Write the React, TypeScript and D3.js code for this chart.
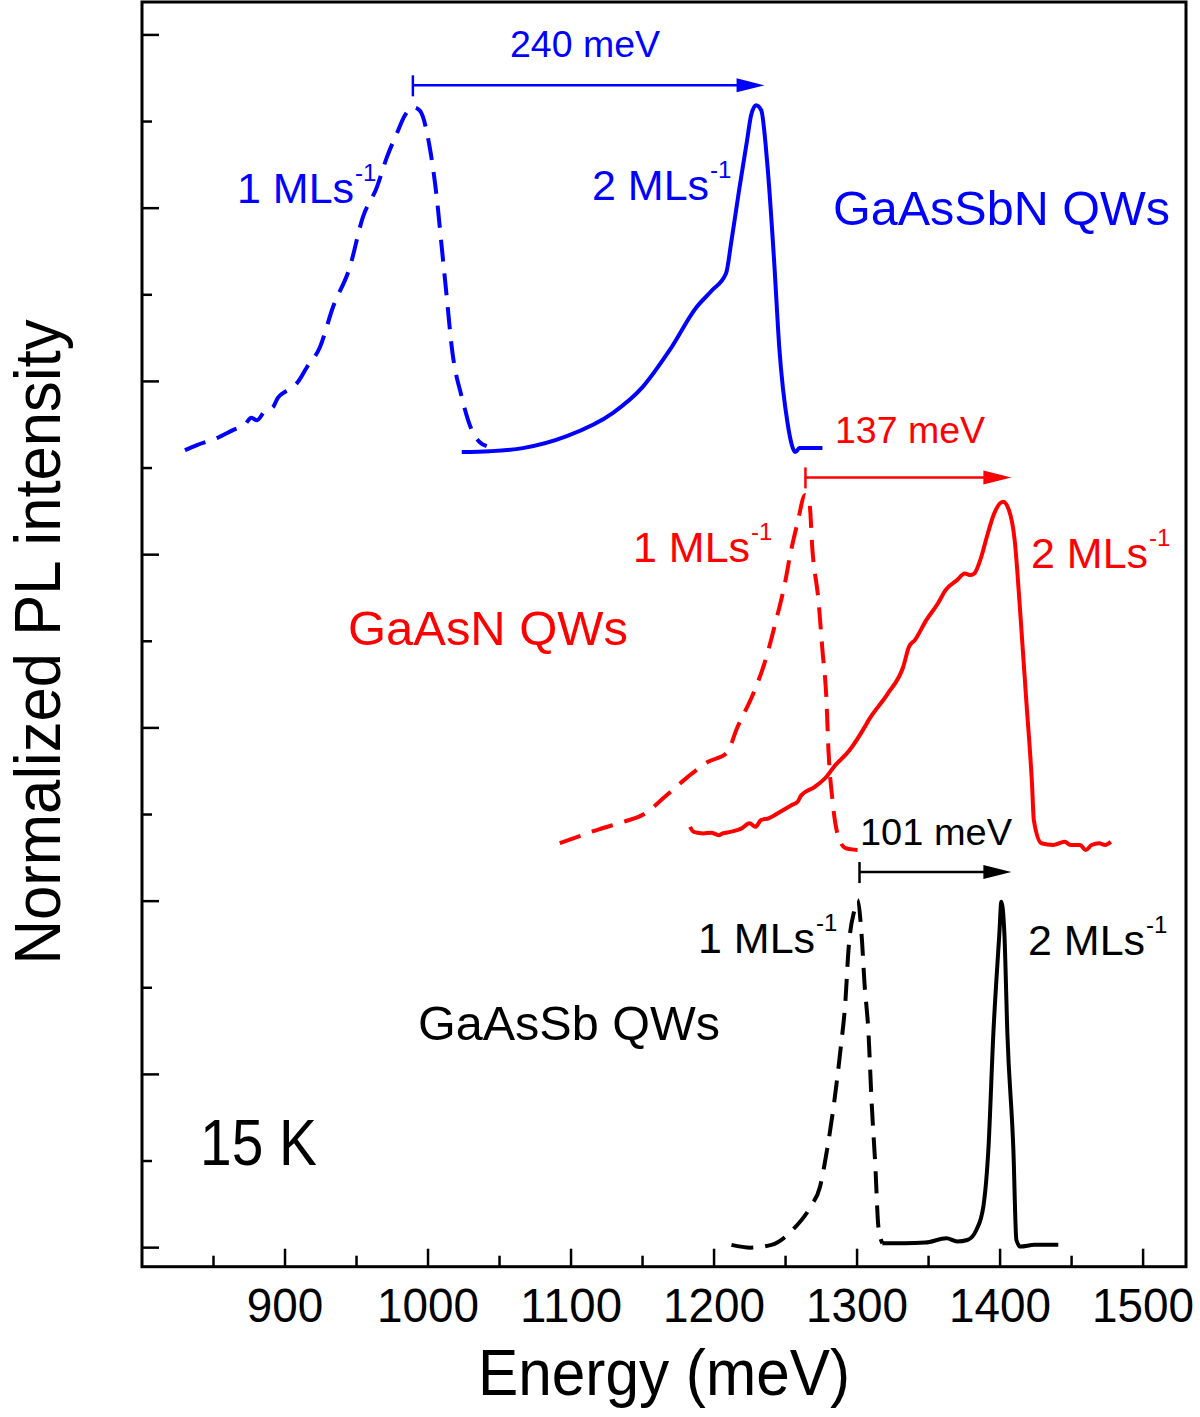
import React from 'react';
import * as d3 from 'd3';

const W = 1200;
const H = 1417;

// Axis ticks
const xMajorTicks = [900, 1000, 1100, 1200, 1300, 1400, 1500];
const xMinorTicks = [850, 950, 1050, 1150, 1250, 1350, 1450];
const yMajorTicks = [0, 1, 2, 3, 4, 5, 6, 7];
const yMinorTicks = [0.5, 1.5, 2.5, 3.5, 4.5, 5.5, 6.5];

// GaAsSbN QWs, 1 ML/s (dashed, blue)
const gaasSbN1: [number, number][] = [
  [830.0, 4.603], [838.4, 4.632], [852.4, 4.673], [863.6, 4.719], [872.0, 4.752],
  [876.5, 4.790], [880.3, 4.776], [886.0, 4.830], [891.5, 4.851], [895.0, 4.905],
  [898.5, 4.932], [903.0, 4.955], [908.3, 4.990], [915.3, 5.082], [924.4, 5.197],
  [933.5, 5.428], [945.3, 5.659], [954.4, 5.947], [964.2, 6.120], [971.2, 6.293],
  [978.2, 6.432], [983.8, 6.535], [989.4, 6.582], [994.2, 6.564], [1001.2, 6.351],
  [1006.1, 6.062], [1009.6, 5.774], [1013.1, 5.486], [1016.6, 5.197], [1023.6, 4.909],
  [1030.6, 4.719], [1036.2, 4.649], [1041.0, 4.626],
];

// GaAsSbN QWs, 2 ML/s (solid, blue)
const gaasSbN2: [number, number][] = [
  [1023.6, 4.592], [1043.2, 4.597], [1066.2, 4.615], [1097.0, 4.684], [1129.1, 4.817],
  [1150.0, 4.967], [1168.9, 5.180], [1187.7, 5.428], [1198.6, 5.526], [1208.4, 5.624],
  [1211.9, 5.797], [1217.5, 6.103], [1223.1, 6.392], [1225.9, 6.536], [1229.4, 6.594],
  [1233.0, 6.565], [1237.2, 6.259], [1242.1, 5.682], [1245.6, 5.197], [1251.4, 4.759],
  [1256.9, 4.592], [1259.7, 4.615], [1275.8, 4.615],
];

// GaAsN QWs, 1 ML/s (dashed, red)
const gaasN1: [number, number][] = [
  [1092.1, 2.335], [1106.0, 2.376], [1120.0, 2.416], [1136.1, 2.456], [1152.1, 2.508],
  [1165.4, 2.601], [1181.5, 2.716], [1195.5, 2.803], [1208.8, 2.855], [1216.4, 3.005],
  [1227.6, 3.201], [1235.3, 3.374], [1243.4, 3.622], [1249.0, 3.813], [1253.9, 4.026],
  [1258.3, 4.182], [1263.7, 4.344], [1266.7, 4.298], [1268.8, 4.026], [1273.0, 3.737],
  [1275.8, 3.448], [1278.6, 3.160], [1280.0, 2.871], [1282.8, 2.583], [1286.2, 2.393],
  [1291.9, 2.306], [1300.3, 2.295],
];

// GaAsN QWs, 2 ML/s (solid, red)
const gaasN2: [number, number][] = [
  [1183.2, 2.429], [1185.8, 2.400], [1192.6, 2.391], [1197.9, 2.395], [1203.3, 2.381],
  [1206.0, 2.391], [1211.4, 2.400], [1219.4, 2.420], [1224.8, 2.449], [1228.9, 2.429],
  [1232.8, 2.468], [1238.2, 2.478], [1246.3, 2.516], [1254.4, 2.555], [1258.4, 2.574],
  [1261.1, 2.612], [1270.5, 2.660], [1278.6, 2.718], [1283.9, 2.776], [1294.7, 2.871],
  [1305.4, 3.006], [1308.1, 3.045], [1321.6, 3.199], [1332.3, 3.353], [1336.3, 3.468],
  [1340.4, 3.507], [1348.4, 3.622], [1356.5, 3.718], [1361.9, 3.795], [1369.9, 3.853],
  [1375.3, 3.891], [1379.4, 3.882], [1382.0, 3.891], [1386.1, 3.968], [1391.4, 4.122],
  [1395.4, 4.228], [1402.1, 4.305], [1406.2, 4.257], [1410.2, 4.084], [1414.3, 3.641],
  [1418.3, 3.160], [1422.3, 2.680], [1423.6, 2.468], [1429.0, 2.334], [1437.1, 2.324],
  [1445.2, 2.343], [1449.2, 2.324], [1455.9, 2.324], [1459.9, 2.295], [1464.0, 2.324],
  [1469.3, 2.334], [1473.4, 2.324], [1477.4, 2.343],
];

// GaAsSb QWs, 1 ML/s (dashed, black)
const gaasSb1: [number, number][] = [
  [1212.2, 0.016], [1225.5, 0.0], [1240.2, 0.016], [1254.9, 0.102], [1267.5, 0.237],
  [1274.1, 0.352], [1279.0, 0.564], [1284.2, 0.852], [1288.4, 1.141], [1291.9, 1.429],
  [1294.0, 1.718], [1298.2, 1.949], [1300.3, 2.006], [1303.1, 1.814], [1305.2, 1.526],
  [1308.0, 1.237], [1310.1, 0.852], [1312.8, 0.467], [1314.9, 0.121], [1317.7, 0.025],
];

// GaAsSb QWs, 2 ML/s (solid, black)
const gaasSb2: [number, number][] = [
  [1317.7, 0.025], [1333.1, 0.025], [1347.8, 0.029], [1362.5, 0.054], [1370.1, 0.035],
  [1377.1, 0.044], [1383.4, 0.102], [1388.3, 0.237], [1391.8, 0.564], [1395.3, 1.237],
  [1399.5, 1.814], [1400.9, 1.997], [1403.0, 1.814], [1405.1, 1.237], [1409.3, 0.564],
  [1411.4, 0.044], [1414.2, 0.006], [1424.0, 0.016], [1440.7, 0.016],
];

// Energy shift arrows: start, end, level
const arrowStarts = [989.4, 1263.9, 1301.7];
const arrowEnds = [1235.3, 1407.9, 1407.9];
const arrowLevels = [6.709, 4.446, 2.168];
const arrowLabels = ['240 meV', '137 meV', '101 meV'];

const BLUE = '#0000ff';
const RED = '#ff0000';
const BLACK = '#000000';
const FONT = "'Liberation Sans', Arial, Helvetica, sans-serif";

export default function App() {
  const left = 142, right = 1186, top = 2, bottom = 1266.7;
  const x = d3.scaleLinear().domain([800, 1530]).range([left, right]);
  const y = d3.scaleLinear().domain([-0.11, 7.19]).range([bottom, top]);
  const line = d3
    .line<[number, number]>()
    .x((d) => x(d[0]))
    .y((d) => y(d[1]))
    .curve(d3.curveMonotoneX);

  const curves = [
    { data: gaasSbN1, color: BLUE, dash: '22,12' },
    { data: gaasSbN2, color: BLUE, dash: null },
    { data: gaasN1, color: RED, dash: '22,12' },
    { data: gaasN2, color: RED, dash: null },
    { data: gaasSb1, color: BLACK, dash: '22,12' },
    { data: gaasSb2, color: BLACK, dash: null },
  ];
  const arrowColors = [BLUE, RED, BLACK];
  const arrowLabelPos = [
    { cx: 585, by: 57, len: 150 },
    { cx: 910, by: 443, len: 150 },
    { cx: 936, by: 845, len: 152 },
  ];

  const mlLabels = [
    { n: '1', x: 237, by: 203, color: BLUE },
    { n: '2', x: 592, by: 200, color: BLUE },
    { n: '1', x: 633, by: 562, color: RED },
    { n: '2', x: 1031, by: 568, color: RED },
    { n: '1', x: 698, by: 953, color: BLACK },
    { n: '2', x: 1028, by: 955, color: BLACK },
  ];

  return (
    <svg
      width={W}
      height={H}
      viewBox={`0 0 ${W} ${H}`}
      style={{ position: 'absolute', left: 0, top: 0, background: '#fff' }}
      fontFamily={FONT}
    >
      <rect x={0} y={0} width={W} height={H} fill="#fff" />

      {/* curves */}
      {curves.map((c, i) => (
        <path
          key={i}
          d={line(c.data) || ''}
          fill="none"
          stroke={c.color}
          strokeWidth={4}
          strokeDasharray={c.dash || undefined}
          strokeLinejoin="round"
        />
      ))}

      {/* arrows */}
      {arrowStarts.map((s, i) => {
        const x1 = x(s);
        const x2 = x(arrowEnds[i]);
        const yy = y(arrowLevels[i]);
        const col = arrowColors[i];
        const hl = 28;
        return (
          <g key={i}>
            <line x1={x1} x2={x2 - hl + 2} y1={yy} y2={yy} stroke={col} strokeWidth={2.5} />
            <line x1={x1} x2={x1} y1={yy - 10} y2={yy + 11} stroke={col} strokeWidth={2.5} />
            <polygon points={`${x2},${yy} ${x2 - hl},${yy - 7} ${x2 - hl},${yy + 7}`} fill={col} />
            <text
              x={arrowLabelPos[i].cx}
              y={arrowLabelPos[i].by}
              fontSize={36}
              textAnchor="middle"
              fill={col}
              textLength={arrowLabelPos[i].len}
              lengthAdjust="spacingAndGlyphs"
            >
              {arrowLabels[i]}
            </text>
          </g>
        );
      })}

      {/* ML labels (single text with superscript tspan) */}
      {mlLabels.map((l, i) => (
        <text key={i} x={l.x} y={l.by} fontSize={43} fill={l.color}>
          <tspan>{`${l.n} MLs`}</tspan>
          <tspan dx={1} dy={-22} fontSize={24}>-1</tspan>
        </text>
      ))}

      {/* group labels */}
      <text x={833} y={225} fontSize={48} fill={BLUE} textLength={337} lengthAdjust="spacingAndGlyphs">
        GaAsSbN QWs
      </text>
      <text x={348} y={645} fontSize={48} fill={RED} textLength={280} lengthAdjust="spacingAndGlyphs">
        GaAsN QWs
      </text>
      <text x={418} y={1040} fontSize={48} fill={BLACK} textLength={302} lengthAdjust="spacingAndGlyphs">
        GaAsSb QWs
      </text>
      <text x={200} y={1165} fontSize={64} fill={BLACK} textLength={117} lengthAdjust="spacingAndGlyphs">
        15 K
      </text>

      {/* frame */}
      <rect x={left} y={top} width={right - left} height={bottom - top} fill="none" stroke="#000" strokeWidth={3} />

      {/* x ticks */}
      {xMajorTicks.map((t) => (
        <g key={'xM' + t}>
          <line x1={x(t)} x2={x(t)} y1={bottom} y2={bottom - 18} stroke="#000" strokeWidth={2.5} />
          <text
            x={x(t)}
            y={1322}
            fontSize={48}
            textAnchor="middle"
            fill="#000"
            textLength={String(t).length * 25.5}
            lengthAdjust="spacingAndGlyphs"
          >
            {t}
          </text>
        </g>
      ))}
      {xMinorTicks.map((t) => (
        <line key={'xm' + t} x1={x(t)} x2={x(t)} y1={bottom} y2={bottom - 11} stroke="#000" strokeWidth={2.5} />
      ))}

      {/* y ticks */}
      {yMajorTicks.map((t) => (
        <line key={'yM' + t} x1={left} x2={left + 17} y1={y(t)} y2={y(t)} stroke="#000" strokeWidth={2.5} />
      ))}
      {yMinorTicks.map((t) => (
        <line key={'ym' + t} x1={left} x2={left + 10} y1={y(t)} y2={y(t)} stroke="#000" strokeWidth={2.5} />
      ))}

      {/* axis titles */}
      <text
        x={664}
        y={1395}
        fontSize={64}
        textAnchor="middle"
        fill="#000"
        textLength={372}
        lengthAdjust="spacingAndGlyphs"
      >
        Energy (meV)
      </text>
      <text
        transform="translate(60,642) rotate(-90)"
        fontSize={64}
        textAnchor="middle"
        fill="#000"
        textLength={645}
        lengthAdjust="spacingAndGlyphs"
      >
        Normalized PL intensity
      </text>
    </svg>
  );
}
